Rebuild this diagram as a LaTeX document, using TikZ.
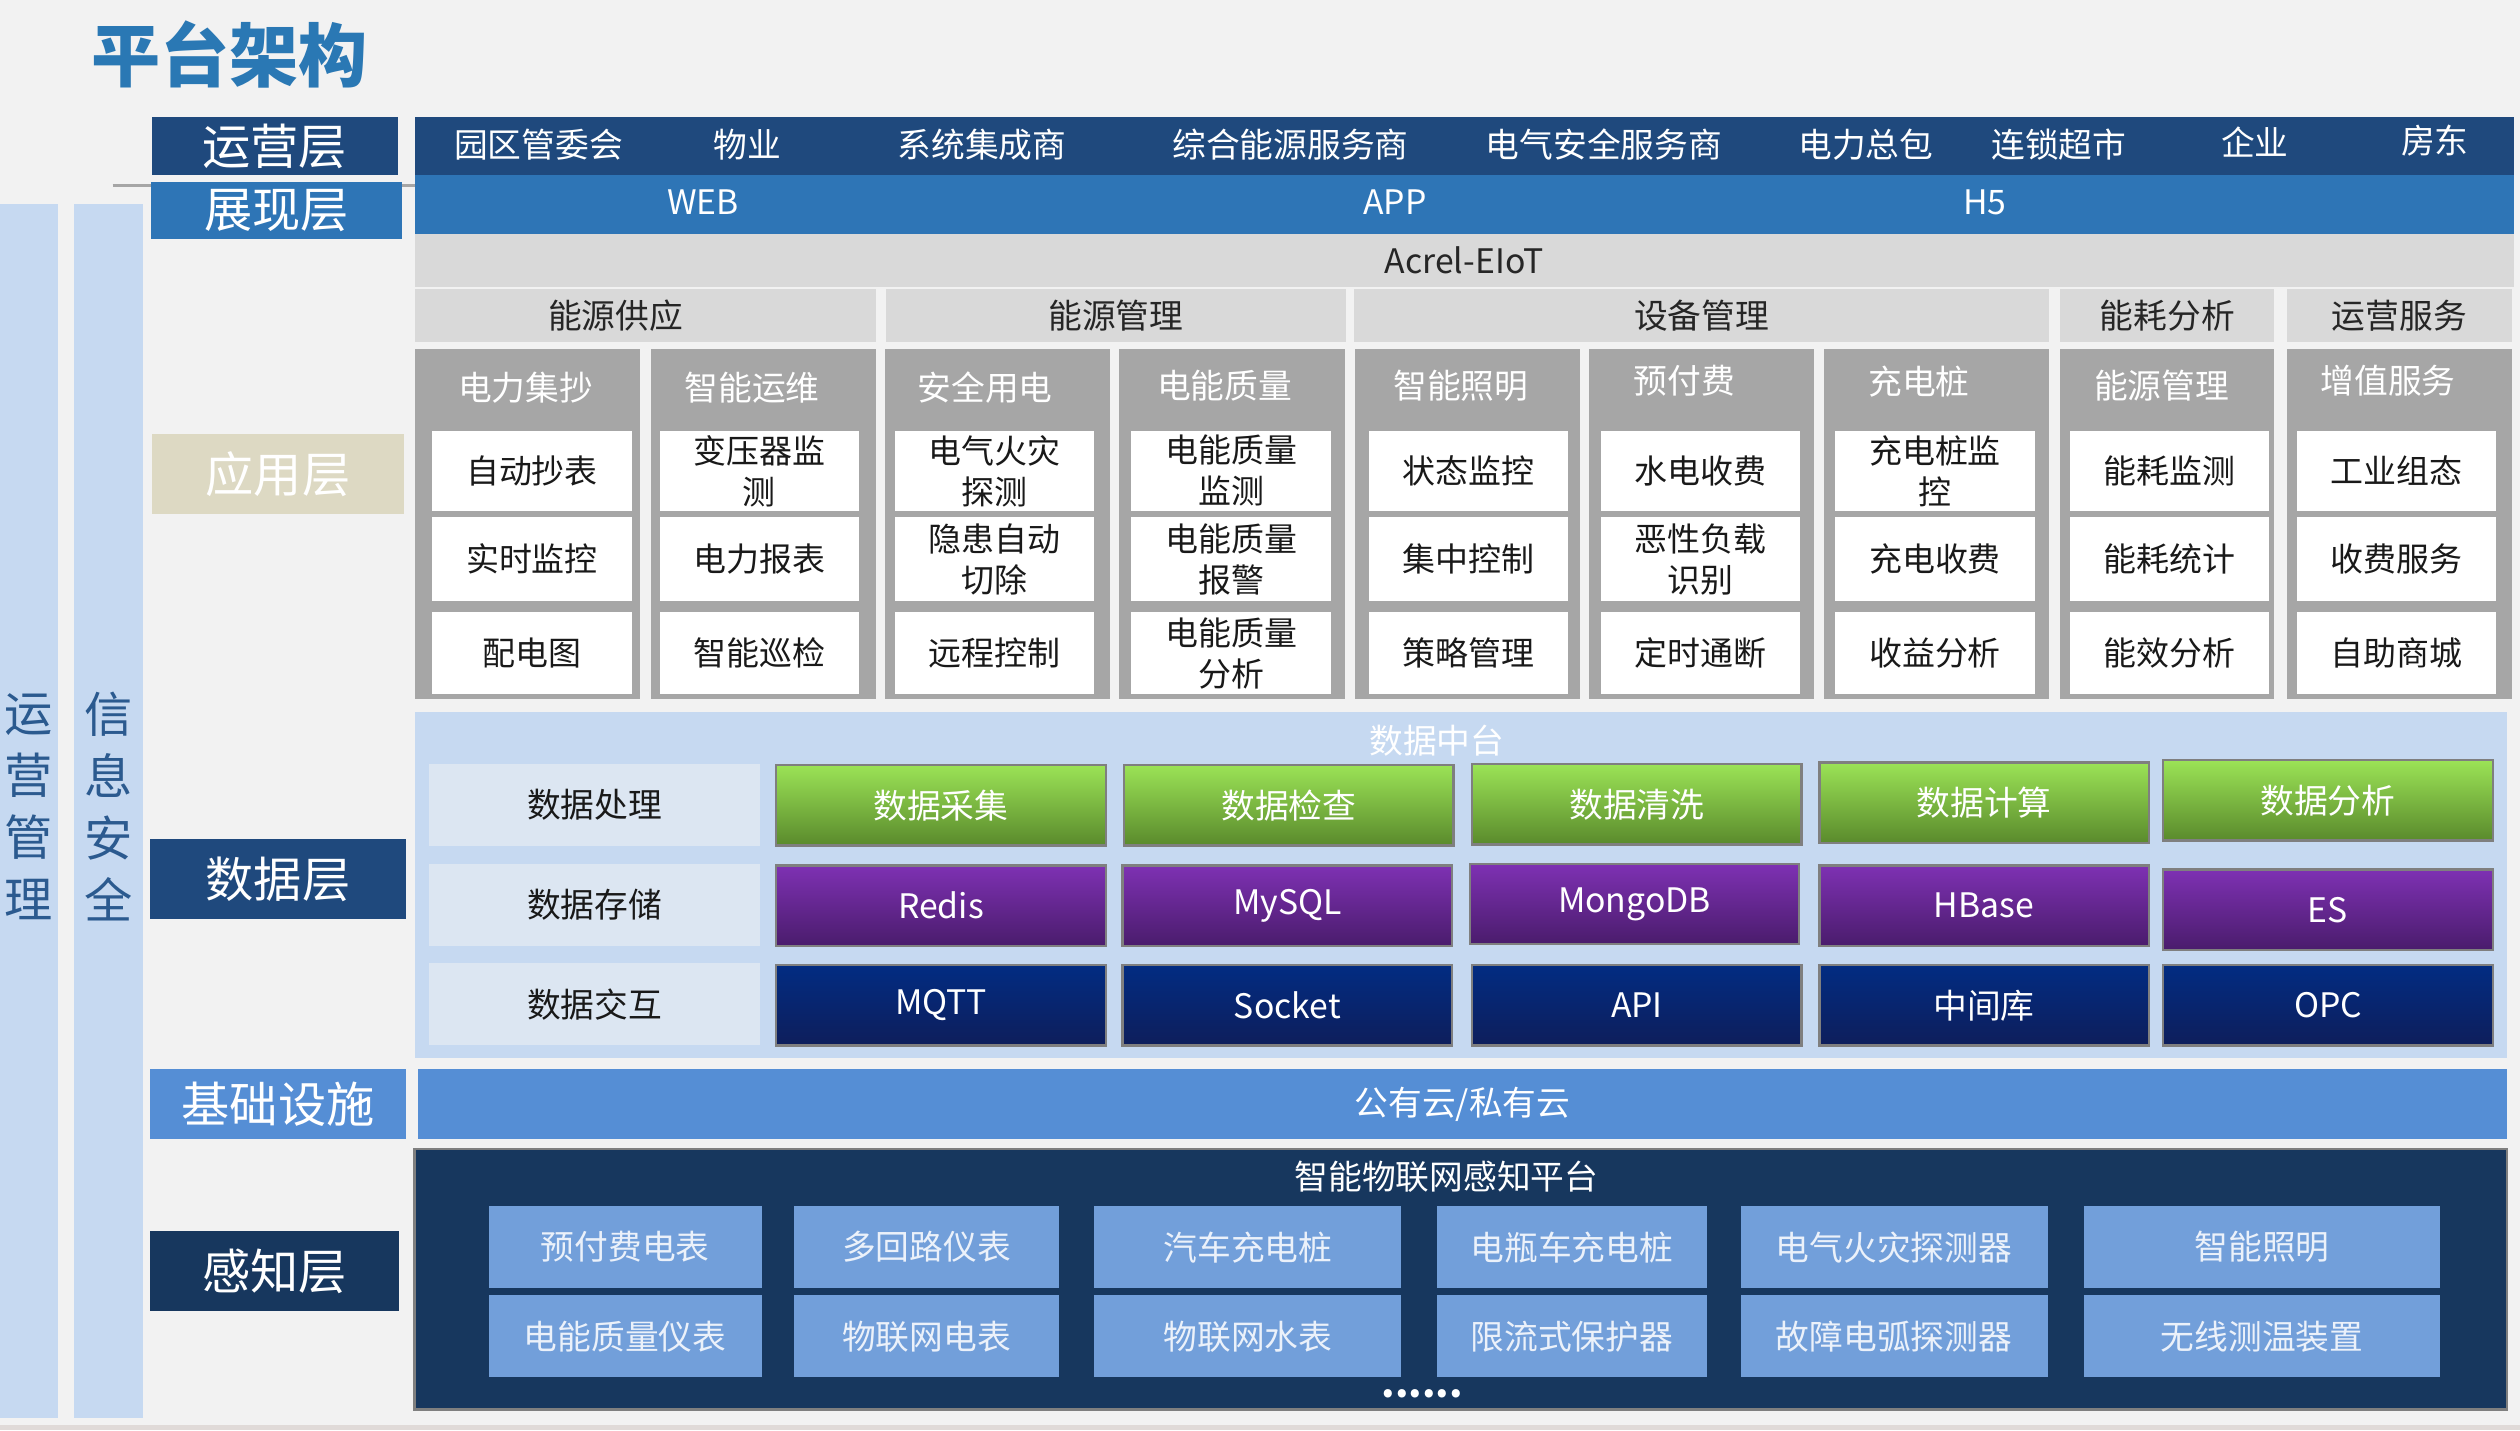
\documentclass[tikz,border=0pt]{standalone}
\usepackage{fontspec}
\setmainfont{Noto Sans CJK SC}
\definecolor{bgray}{HTML}{F2F2F2}
\definecolor{opsblue}{HTML}{1F497D}
\definecolor{webblue}{HTML}{2E75B6}
\definecolor{bandgray}{HTML}{D9D9D9}
\definecolor{colgray}{HTML}{A6A6A6}
\definecolor{appbeige}{HTML}{DDD9C3}
\definecolor{datablue}{HTML}{C6D9F1}
\definecolor{labelblue}{HTML}{DCE6F2}
\definecolor{infrablue}{HTML}{558ED5}
\definecolor{senseblue}{HTML}{17375E}
\definecolor{devblue}{HTML}{729FDA}
\definecolor{devtext}{HTML}{EBF1FA}
\definecolor{titleblue}{HTML}{2A78B4}
\definecolor{sidetext}{HTML}{2B5A8F}
\definecolor{greentop}{HTML}{9BE356}
\definecolor{greenmid}{HTML}{86C548}
\definecolor{greenbot}{HTML}{5A8A2C}
\definecolor{purptop}{HTML}{7E31B3}
\definecolor{purpbot}{HTML}{4A1C6C}
\definecolor{navytop}{HTML}{022C82}
\definecolor{navybot}{HTML}{0E1E5B}
\definecolor{edgegray}{HTML}{7F7F7F}
\definecolor{footgray}{HTML}{E0DAD8}

\begin{document}
\begin{tikzpicture} [
        x=1pt, y=-1pt,
        layer/.style={inner sep=0pt, text=white, font=\fontsize{30}{34}\selectfont},
        band/.style={inner sep=0pt, text=white, font=\fontsize{21}{25}\selectfont},
        hdr/.style={fill=bandgray, minimum height=33pt, inner sep=0pt, text=black!85, font=\fontsize{21}{25}\selectfont},
        col/.style={fill=colgray, minimum width=140pt, minimum height=218pt, inner sep=0pt},
        coltext/.style={inner sep=0pt, text=white, font=\fontsize{21}{25}\selectfont},
        cell/.style={fill=white, minimum width=124pt, minimum height=51pt, inner sep=0pt, align=center, text=black!90, font=\fontsize{20.5}{25.5}\selectfont},
        dlabel/.style={fill=labelblue, minimum width=206pt, minimum height=51pt, inner sep=0pt, text=black!90, font=\fontsize{21}{25}\selectfont},
        dbox/.style={draw=edgegray, line width=1.5pt, minimum width=205pt, minimum height=50pt, inner sep=0pt, text=white, font=\fontsize{21}{25}\selectfont},
        procbox/.style={dbox, top color=greentop, middle color=greenmid, bottom color=greenbot},
        storebox/.style={dbox, top color=purptop, bottom color=purpbot},
        linkbox/.style={dbox, top color=navytop, bottom color=navybot},
        devbox/.style={fill=devblue, minimum height=51pt, inner sep=0pt, text=devtext, font=\fontsize{21}{25}\selectfont},
        side/.style={fill=datablue, minimum height=755pt, inner sep=0pt},
        sidelbl/.style={inner sep=0pt, align=center, text=sidetext, font=\fontsize{30}{38.6}\selectfont} ]

    % background and frame
    \fill[bgray] (0,0) rectangle (1568,890);
    \fill[footgray] (0,886.5) rectangle (1568,890);
    \useasboundingbox (0,0) rectangle (1568,890);

    \node[inner sep=0pt, text=titleblue, font=\fontsize{43}{48}\selectfont\bfseries] (title) at (143,34) {平台架构};

    % left side bars
    \node[side, minimum width=36pt] (opsbar) at (18,504.5) {};
    \node[side, minimum width=43pt] (secbar) at (67.5,504.5) {};
    \node[sidelbl] (opsbart) at (18,502) {运\\营\\管\\理};
    \node[sidelbl] (secbart) at (67.5,502) {信\\息\\安\\全};

    % layer names
    \draw[colgray, line width=2pt] (70,115.5) -- (258,115.5);
    \node[layer, fill=opsblue, minimum width=153pt, minimum height=36pt] (lops) at (171,91) {运营层};
    \node[layer, fill=webblue, minimum width=156pt, minimum height=36pt] (lweb) at (172,131) {展现层};
    \node[layer, fill=appbeige, minimum width=157pt, minimum height=50pt] (lapp) at (173,295) {应用层};
    \node[layer, fill=opsblue, minimum width=159pt, minimum height=50pt] (ldata) at (173,547) {数据层};
    \node[layer, fill=infrablue, minimum width=159pt, minimum height=44pt] (linfra) at (173,687) {基础设施};
    \node[layer, fill=senseblue, minimum width=155pt, minimum height=50pt] (lsense) at (171,791) {感知层};

    % operation layer
    \node[fill=opsblue, minimum width=1306pt, minimum height=36pt, inner sep=0pt] (ops) at (911,90.8) {};
    \node[band] (o1) at (335,90) {园区管委会};
    \node[band] (o2) at (465,90) {物业};
    \node[band] (o3) at (611,90) {系统集成商};
    \node[band] (o4) at (803,90) {综合能源服务商};
    \node[band] (o5) at (998,90) {电气安全服务商};
    \node[band] (o6) at (1161,90) {电力总包};
    \node[band] (o7) at (1281,90) {连锁超市};
    \node[band] (o8) at (1403,88.5) {企业};
    \node[band] (o9) at (1515,87.5) {房东};

    % presentation layer
    \node[fill=webblue, minimum width=1306pt, minimum height=37pt, inner sep=0pt] (web) at (911,127.2) {};
    \node[band] (w1) at (437.5,126) {WEB};
    \node[band] (w2) at (868,126) {APP};
    \node[band] (w3) at (1235,126) {H5};

    % application layer
    \node[hdr, minimum width=1306pt] (acrel) at (911,162) {Acrel-EIoT};
    \node[hdr, minimum width=287pt] (h1) at (401.5,196.4) {};
    \node[inner sep=0pt, text=black!85, font=\fontsize{21}{25}\selectfont] (h1t) at (383,196.5) {能源供应};
    \node[hdr, minimum width=286.5pt] (h2) at (694.25,196.4) {能源管理};
    \node[hdr, minimum width=432.5pt] (h3) at (1058.75,196.4) {设备管理};
    \node[hdr, minimum width=133pt] (h4) at (1348.5,196.4) {能耗分析};
    \node[hdr, minimum width=140pt] (h5) at (1493,196.4) {运营服务};

    \node[col] (c1) at (328,326) {};
    \node[col] (c2) at (475,326) {};
    \node[col] (c3) at (620.5,326) {};
    \node[col, minimum width=141pt] (c4) at (766.5,326) {};
    \node[col] (c5) at (913,326) {};
    \node[col] (c6) at (1059,326) {};
    \node[col] (c7) at (1205,326) {};
    \node[col, minimum width=133pt] (c8) at (1348.5,326) {};
    \node[col] (c9) at (1493,326) {};

    \node[coltext] (c1t) at (327,241) {电力集抄};
    \node[coltext] (c2t) at (468,241) {智能运维};
    \node[coltext] (c3t) at (613,241) {安全用电};
    \node[coltext] (c4t) at (762,240) {电能质量};
    \node[coltext] (c5t) at (909,240) {智能照明};
    \node[coltext] (c6t) at (1048,237) {预付费};
    \node[coltext] (c7t) at (1194,237.5) {充电桩};
    \node[coltext] (c8t) at (1345,240) {能源管理};
    \node[coltext] (c9t) at (1486,237) {增值服务};

    \node[cell, minimum height=50pt] (a11) at (331,293) {自动抄表};
    \node[cell, minimum height=52pt] (a12) at (331,348) {实时监控};
    \node[cell] (a13) at (331,406.5) {配电图};
    \node[cell, minimum height=50pt] (a21) at (472.5,293) {变压器监\\测};
    \node[cell, minimum height=52pt] (a22) at (472.5,348) {电力报表};
    \node[cell] (a23) at (472.5,406.5) {智能巡检};
    \node[cell, minimum height=50pt] (a31) at (619,293) {电气火灾\\探测};
    \node[cell, minimum height=52pt] (a32) at (619,348) {隐患自动\\切除};
    \node[cell] (a33) at (619,406.5) {远程控制};
    \node[cell, minimum height=50pt] (a41) at (766,293) {电能质量\\监测};
    \node[cell, minimum height=52pt] (a42) at (766,348) {电能质量\\报警};
    \node[cell] (a43) at (766,406.5) {电能质量\\分析};
    \node[cell, minimum height=50pt] (a51) at (913.5,293) {状态监控};
    \node[cell, minimum height=52pt] (a52) at (913.5,348) {集中控制};
    \node[cell] (a53) at (913.5,406.5) {策略管理};
    \node[cell, minimum height=50pt] (a61) at (1058,293) {水电收费};
    \node[cell, minimum height=52pt] (a62) at (1058,348) {恶性负载\\识别};
    \node[cell] (a63) at (1058,406.5) {定时通断};
    \node[cell, minimum height=50pt] (a71) at (1204,293) {充电桩监\\控};
    \node[cell, minimum height=52pt] (a72) at (1204,348) {充电收费};
    \node[cell] (a73) at (1204,406.5) {收益分析};
    \node[cell, minimum height=50pt] (a81) at (1350,293) {能耗监测};
    \node[cell, minimum height=52pt] (a82) at (1350,348) {能耗统计};
    \node[cell] (a83) at (1350,406.5) {能效分析};
    \node[cell, minimum height=50pt] (a91) at (1491,293) {工业组态};
    \node[cell, minimum height=52pt] (a92) at (1491,348) {收费服务};
    \node[cell] (a93) at (1491,406.5) {自助商城};

    % data layer
    \node[fill=datablue, minimum width=1302pt, minimum height=215pt, inner sep=0pt] (dmid) at (909,550.5) {};
    \node[band] (dmidt) at (894,461) {数据中台};
    \node[dlabel] (dl1) at (370,501) {数据处理};
    \node[dlabel] (dl2) at (370,563) {数据存储};
    \node[dlabel] (dl3) at (370,625) {数据交互};

    \node[procbox] (p1) at (585.5,501) {数据采集};
    \node[procbox] (p2) at (802,501) {数据检查};
    \node[procbox] (p3) at (1018.5,500.5) {数据清洗};
    \node[procbox] (p4) at (1234.5,499.5) {数据计算};
    \node[procbox] (p5) at (1448.5,498) {数据分析};

    \node[storebox] (s1) at (585.5,563.5) {Redis};
    \node[storebox] (s2) at (801,563.5) {MySQL};
    \node[storebox] (s3) at (1017,562.5) {MongoDB};
    \node[storebox] (s4) at (1234.5,563.5) {HBase};
    \node[storebox] (s5) at (1448.5,566) {ES};

    \node[linkbox] (k1) at (585.5,625.5) {MQTT};
    \node[linkbox] (k2) at (801,625.5) {Socket};
    \node[linkbox] (k3) at (1018.5,625.5) {API};
    \node[linkbox] (k4) at (1234.5,625.5) {中间库};
    \node[linkbox] (k5) at (1448.5,625.5) {OPC};

    % infrastructure layer
    \node[band, fill=infrablue, minimum width=1300pt, minimum height=44pt] (cloud) at (910,687) {公有云/私有云};

    % perception layer
    \node[fill=senseblue, draw=edgegray, line width=1.5pt, minimum width=1302pt, minimum height=162pt, inner sep=0pt] (sense) at (909,796) {};
    \node[band] (senset) at (900,732.5) {智能物联网感知平台};
    \node[devbox, minimum width=170pt] (e1) at (389,776) {预付费电表};
    \node[devbox, minimum width=165pt] (e2) at (576.5,776) {多回路仪表};
    \node[devbox, minimum width=191pt] (e3) at (776.5,776) {汽车充电桩};
    \node[devbox, minimum width=168pt] (e4) at (978,776) {电瓶车充电桩};
    \node[devbox, minimum width=191pt] (e5) at (1178.5,776) {电气火灾探测器};
    \node[devbox, minimum width=221pt] (e6) at (1407.5,776) {智能照明};
    \node[devbox, minimum width=170pt] (f1) at (389,831.5) {电能质量仪表};
    \node[devbox, minimum width=165pt] (f2) at (576.5,831.5) {物联网电表};
    \node[devbox, minimum width=191pt] (f3) at (776.5,831.5) {物联网水表};
    \node[devbox, minimum width=168pt] (f4) at (978,831.5) {限流式保护器};
    \node[devbox, minimum width=191pt] (f5) at (1178.5,831.5) {故障电弧探测器};
    \node[devbox, minimum width=221pt] (f6) at (1407.5,831.5) {无线测温装置};
    \node[inner sep=0pt, text=white, font=\fontsize{24}{24}\selectfont\bfseries] (more) at (885,867) {......};
\end{tikzpicture}
\end{document}
